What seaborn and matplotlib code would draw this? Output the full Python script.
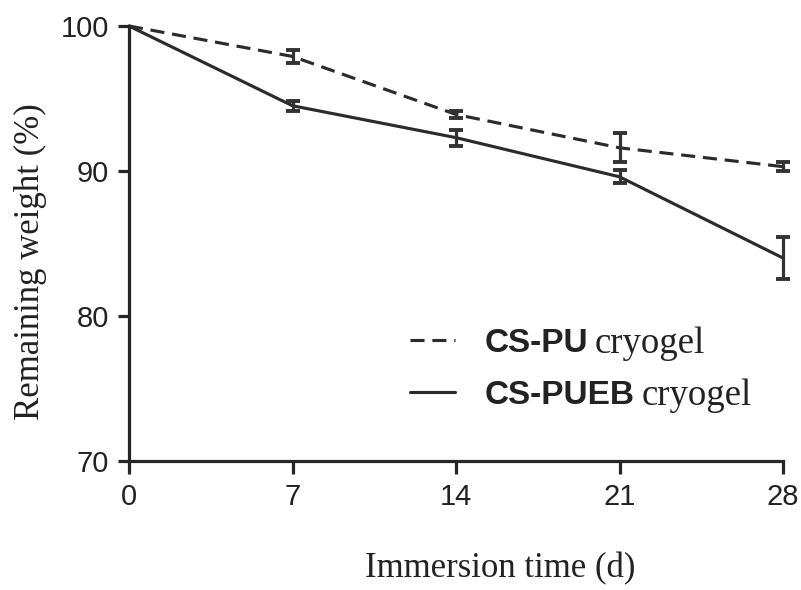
import matplotlib
matplotlib.use("Agg")
import matplotlib.pyplot as plt
import numpy as np
import pandas as pd
import seaborn as sns

# ---- data ----
days = [0, 7, 14, 21, 28]
pu_mean = [100.0, 97.9, 93.9, 91.6, 90.3]
pu_err = [0.0, 0.45, 0.25, 1.0, 0.3]
pueb_mean = [100.0, 94.5, 92.3, 89.6, 84.0]
pueb_err = [0.0, 0.35, 0.55, 0.45, 1.45]
series = ["CS-PU", "CS-PUEB"]
suffix = "cryogel"
x_ticks = [0, 7, 14, 21, 28]
y_ticks = [70, 80, 90, 100]
x_label = "Immersion time (d)"
y_label = "Remaining weight (%)"

sns.set_style("ticks")
plt.rcParams["font.family"] = ["Liberation Sans", "DejaVu Sans"]

df = pd.DataFrame({
    "day": days + days,
    "weight": pu_mean + pueb_mean,
    "series": [series[0]] * len(days) + [series[1]] * len(days),
})

W, H = 801, 590
fig = plt.figure(figsize=(W / 100, H / 100), dpi=100)
fig.patch.set_facecolor("white")
ax = fig.add_axes([129 / W, 129 / H, 654 / W, 435 / H])

line_color = "#2b2b2b"
sns.lineplot(data=df, x="day", y="weight", style="series",
             dashes={series[0]: (4.5, 2.5), series[1]: ""},
             color=line_color, lw=2.25, ax=ax, legend=False, clip_on=False)

for mean, err in ((pu_mean, pu_err), (pueb_mean, pueb_err)):
    ax.errorbar(days[1:], mean[1:], yerr=err[1:], fmt="none",
                ecolor="#333333", elinewidth=2.3, capsize=5.2,
                capthick=2.8, clip_on=False, zorder=3)

ax.set_xlim(0, 28)
ax.set_ylim(70, 100)
ax.set_xticks(x_ticks)
ax.set_yticks(y_ticks)
ax.set_xticklabels([str(t) for t in x_ticks])
ax.set_yticklabels([str(t) for t in y_ticks])

for s in ("top", "right"):
    ax.spines[s].set_visible(False)
for s in ("left", "bottom"):
    ax.spines[s].set_linewidth(2.3)
    ax.spines[s].set_color("#262626")

ax.tick_params(axis="x", width=2.3, length=9.4, pad=6.5, color="#262626",
               labelsize=21, labelcolor="#222222")
ax.tick_params(axis="y", width=2.3, length=7.9, pad=6.5, color="#262626",
               labelsize=21, labelcolor="#222222")

ax.set_xlabel(x_label, fontfamily="Liberation Serif", fontsize=25, color="#222222")
ax.set_ylabel(y_label, fontfamily="Liberation Serif", fontsize=25, color="#222222")
ax.xaxis.set_label_coords((500 - 129) / 654, (461 - 552) / 435)
ax.yaxis.set_label_coords((47 - 129) / 654, (461 - 261.5) / 435)

leg = ax.legend(handles=[ax.lines[0], ax.lines[1]], labels=series,
                loc="upper left", bbox_to_anchor=(410 / W, (H - 328) / H),
                bbox_transform=fig.transFigure, frameon=False,
                borderpad=0, borderaxespad=0, handlelength=1.35,
                handletextpad=0.9, labelspacing=0.63,
                prop={"family": "Liberation Sans", "weight": "bold", "size": 24})
for t in leg.get_texts():
    t.set_color("#222222")

fig.text(595 / W, (H - 353) / H, suffix, fontfamily="Liberation Serif",
         fontsize=26.5, va="baseline", ha="left", color="#222222")
fig.text(642 / W, (H - 405) / H, suffix, fontfamily="Liberation Serif",
         fontsize=26.5, va="baseline", ha="left", color="#222222")

fig.savefig("out.png", dpi=100, facecolor="white")
